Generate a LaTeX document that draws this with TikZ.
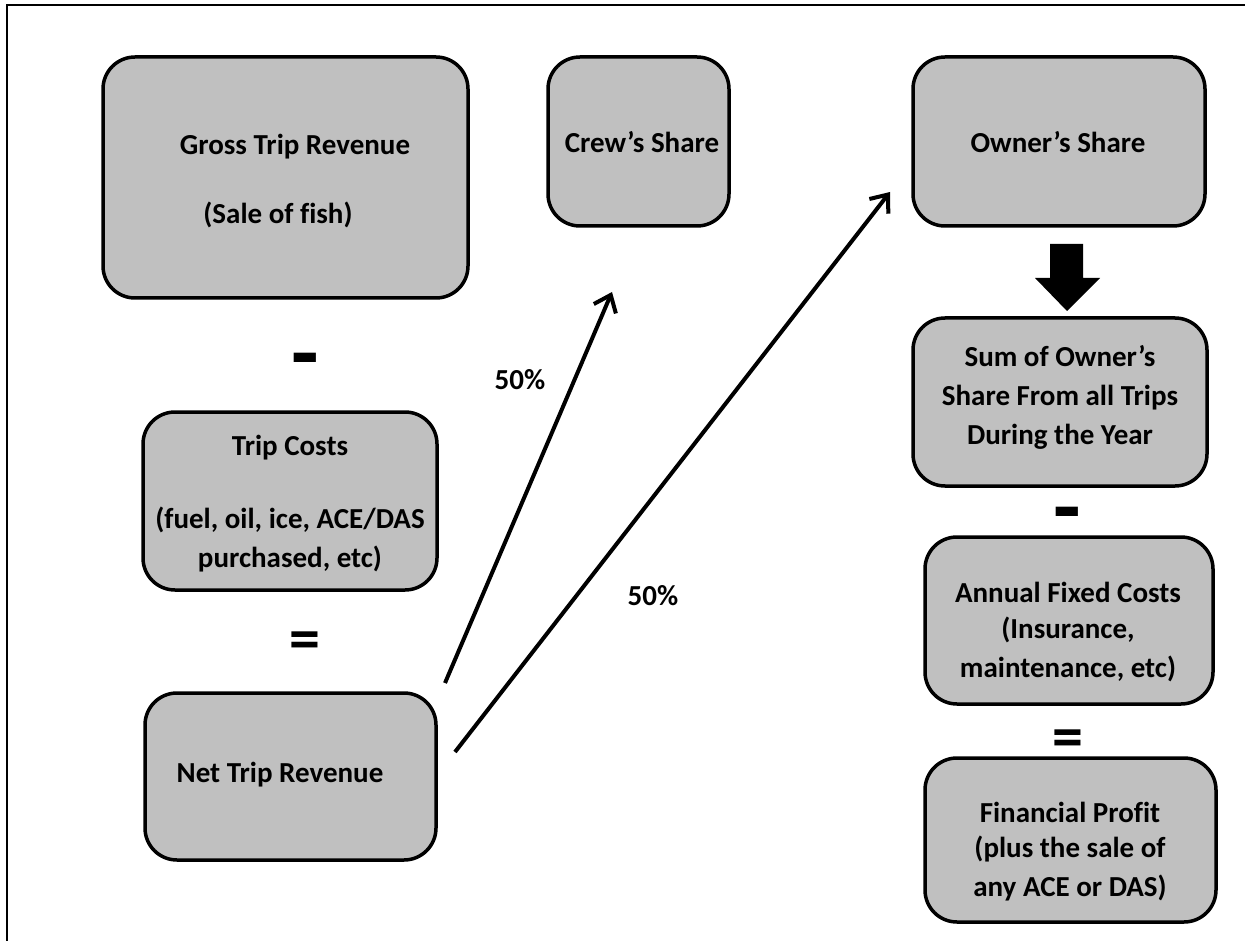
\documentclass[tikz,border=0pt]{standalone}
\usepackage{fontspec}
\setmainfont[Ligatures=NoCommon]{Carlito}
\usetikzlibrary{arrows.meta}
\begin{document}
\begin{tikzpicture}[x=1pt,y=-1pt,
  box/.style={draw=black,line width=3.5pt,fill=boxgray,rounded corners=32pt},
  lbl/.style={font=\bfseries\fontsize{29}{39}\selectfont,align=center,inner sep=0pt},
  msym/.style={font=\bfseries\fontsize{90}{90}\selectfont,inner sep=0pt},
  esym/.style={font=\bfseries\fontsize{62}{62}\selectfont,inner sep=0pt},
  arr/.style={line width=4pt,-{Straight Barb[length=15pt,width=24pt,line width=4pt]}}]
\definecolor{boxgray}{RGB}{192,192,192}
\useasboundingbox (0,0) rectangle (1245,941);
\draw[line width=2.5pt] (7,941) -- (7,5) -- (1245,5);
% boxes
\draw[box] (103,57) rectangle (468,298);
\draw[box] (548,57) rectangle (729,226);
\draw[box] (913,57) rectangle (1205,226);
\draw[box] (143,412) rectangle (437,590);
\draw[box] (145,693) rectangle (436,860);
\draw[box] (913,318) rectangle (1207,486);
\draw[box] (925,537) rectangle (1213,704);
\draw[box] (925,758) rectangle (1216,922);
% texts
\node[lbl] (gross) at (295,147) {Gross Trip Revenue};
\node[lbl] (grosss) at (278,215) {(Sale of fish)};
\node[lbl] (crew) at (642,142) {Crew’s Share};
\node[lbl] (owner) at (1058,142) {Owner’s Share};
\node[lbl] (trip) at (290,448) {Trip Costs};
\node[lbl] (trips) at (290,540) {(fuel, oil, ice, ACE/DAS\\purchased, etc)};
\node[lbl] (net) at (280,775) {Net Trip Revenue};
\node[lbl] (sum) at (1060,397) {Sum of Owner’s\\Share From all Trips\\During the Year};
\node[lbl] (annual) at (1068,592) {Annual Fixed Costs};
\node[lbl] (annuals) at (1068,649) {(Insurance,\\maintenance, etc)};
\node[lbl] (fin) at (1070,812) {Financial Profit};
\node[lbl] (fins) at (1070,869) {(plus the sale of\\any ACE or DAS)};
% operators
\node[msym] (m1) at (305,368) {-};
\node[esym] (e1) at (305,646) {=};
\node[msym] (m2) at (1067,522) {-};
\node[esym] (e2) at (1068,744) {=};
% arrows
\coordinate (a1s) at (445,683);
\coordinate (a1e) at (612,292);
\coordinate (a2s) at (455,752);
\coordinate (a2e) at (890,192);
\draw[arr] (a1s) -- (a1e);
\draw[arr] (a2s) -- (a2e);
\node[lbl] (p1) at (520,380) {50\%};
\node[lbl] (p2) at (653,596) {50\%};
% block arrow
\fill[black] (1050,244) -- (1083,244) -- (1083,278) -- (1100,278) -- (1067,311) -- (1035,278) -- (1050,278) -- cycle;
\end{tikzpicture}
\end{document}
